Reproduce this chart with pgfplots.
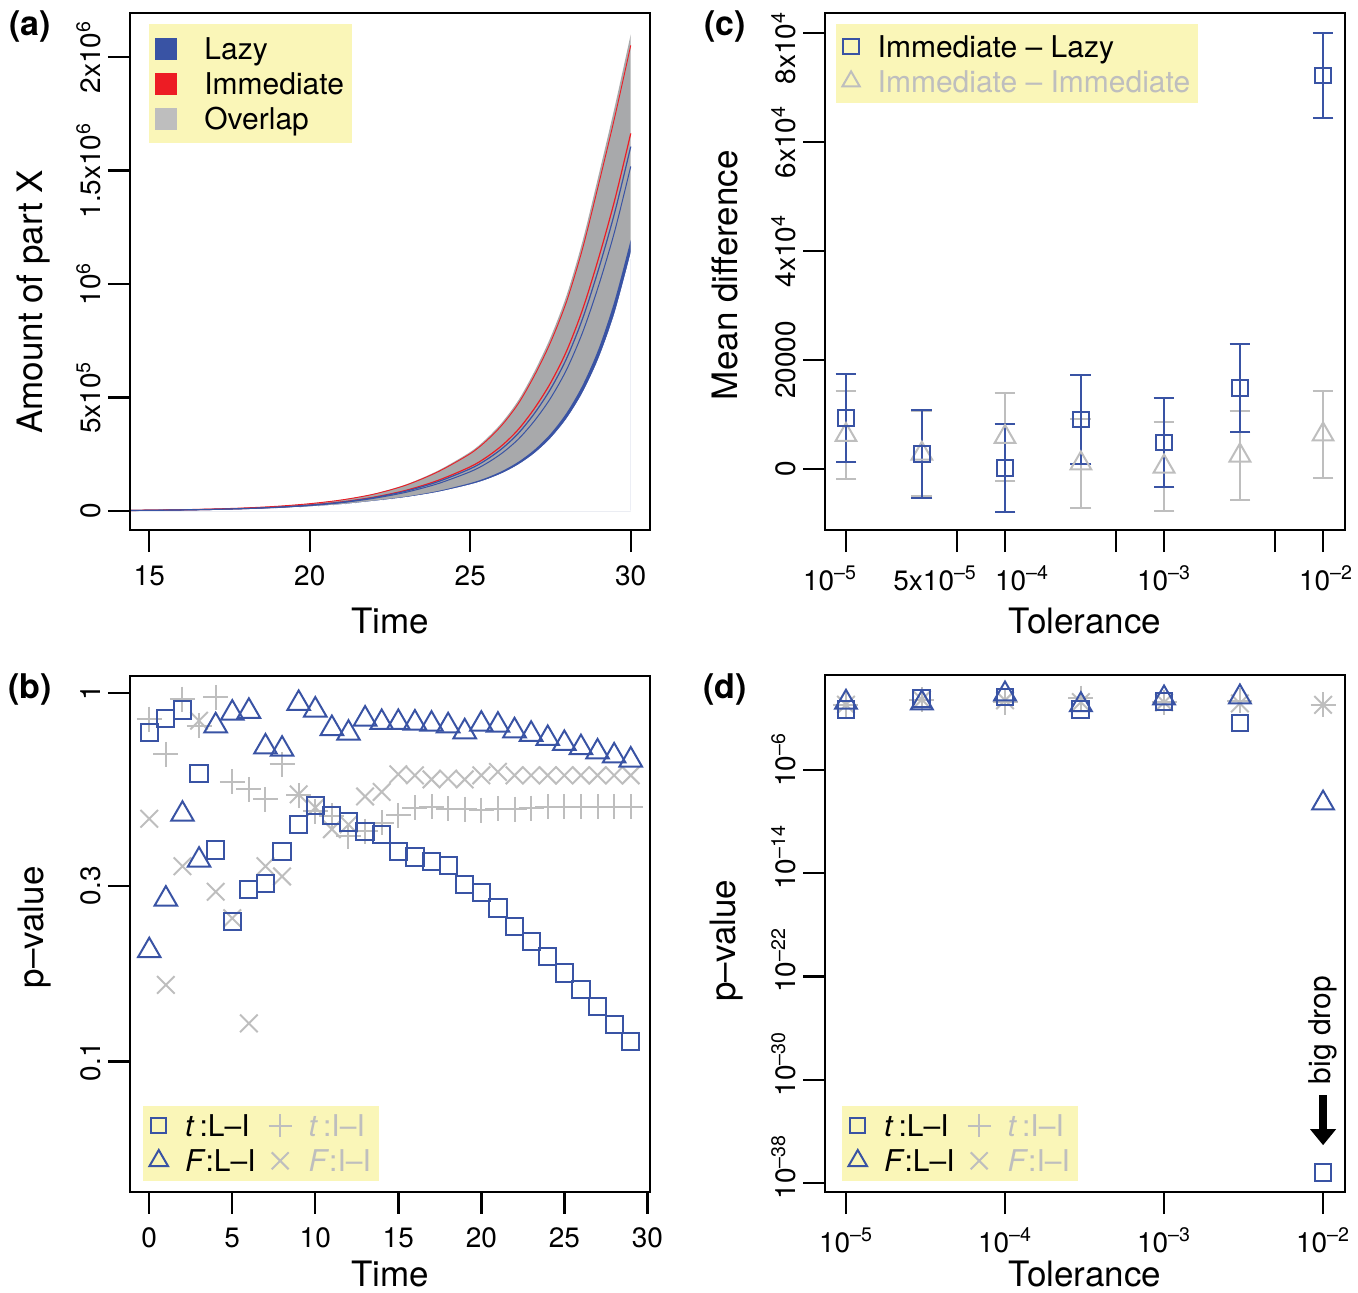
\documentclass[border=0pt]{standalone}
\usepackage{fontspec}
\setmainfont{TeX Gyre Heros}
\usepackage{pgfplots}
\usepackage{pgfplotstable}
\pgfplotsset{compat=1.18}
\usetikzlibrary{arrows.meta}

\definecolor{lazyblue}{HTML}{3953A4}
\definecolor{immred}{HTML}{ED1C24}
\definecolor{overlapgray}{HTML}{A8A9AB}
\definecolor{grayc}{HTML}{BEBEBE}
\definecolor{legendyellow}{HTML}{FAF6B8}

% (a) growth bands
\pgfplotstableread{
t    top     blow    glow    redm    bluem   bluem2  redt
14.4 3000    1750    1873    2438    2363    2250    2938
15   3900    2250    2408    3158    3059    2910    3818
16   6000    3400    3638    4830    4674    4440    5870
17   9200    5200    5564    7400    7160    6800    9000
18   14000   8000    8560    11300   10940   10400   13700
19   21500   12100   12947   17270   16706   15860   21030
20   33000   18400   19688   26430   25554   24240   32270
21   50000   28000   29960   40100   38780   36800   48900
22   76000   42700   45689   61015   59017   56020   74335
23   117000  59400   63558   91080   87624   82440   114120
24   178000  82600   88382   135070  129346  120760  173230
25   260000  115000  123050  194750  186050  173000  252750
25.5 318000  136600  146162  236370  225486  209160  308930
26   392000  165100  176657  289895  276281  255860  380655
26.5 488000  202700  216889  359615  342497  316820  473735
27   615000  252300  269961  451785  430023  397380  596865
27.5 765000  317800  340046  563760  536928  496680  742640
28   950000  404200  432494  704390  671642  622520  922710
28.5 1190000 518300  554581  887735  847433  786980  1156415
29   1480000 668900  715723  1115005 1066339 993340  1439445
29.5 1780000 867700  928439  1369465 1314727 1232620 1734385
30   2100000 1130000 1195000 1663500 1605300 1518000 2051500
}\growth

% (b) p-values over time
\pgfplotstableread{
x  tLI    FLI    tII    FII
0  0.782  0.200  0.850  0.456
1  0.853  0.276  0.682  0.1615
2  0.899  0.469  0.963  0.339
3  0.604  0.352  0.815  0.841
4  0.375  0.815  0.973  0.289
5  0.240  0.882  0.574  0.245
6  0.293  0.892  0.548  0.127
7  0.305  0.714  0.515  0.339
8  0.371  0.704  0.641  0.318
9  0.440  0.937  0.528  0.531
10 0.496  0.899  0.478  0.489
11 0.466  0.801  0.464  0.427
12 0.447  0.778  0.409  0.440
13 0.422  0.850  0.422  0.524
14 0.413  0.832  0.445  0.539
15 0.372  0.832  0.466  0.602
16 0.359  0.829  0.489  0.598
17 0.350  0.823  0.492  0.583
18 0.341  0.815  0.486  0.586
19 0.303  0.785  0.484  0.583
20 0.287  0.823  0.481  0.598
21 0.261  0.818  0.486  0.611
22 0.233  0.790  0.484  0.598
23 0.212  0.773  0.487  0.598
24 0.193  0.753  0.492  0.598
25 0.174  0.730  0.492  0.598
26 0.157  0.711  0.492  0.598
27 0.141  0.692  0.492  0.598
28 0.126  0.675  0.492  0.598
29 0.1137 0.658  0.492  0.598
}\pval

% (c) mean differences with error
\pgfplotstableread{
tol   LI     LIe   II    IIe
1e-5  9355   8075  6235  8065
3e-5  2755   8075  2800  7800
1e-4  185    8075  5875  8075
3e-4  9085   8165  1010  8160
1e-3  4865   8165  450   8150
3e-3  14865  8075  2470  8170
1e-2  72200  7800  6325  7975
}\meandiff

% (d) p-values over tolerance
\pgfplotstableread{
tol   sq      tri     plus   cross
1e-5  0.0468  0.174   0.115  0.115
3e-5  0.331   0.155   0.288  0.288
1e-4  0.447   0.759   0.182  0.251
3e-4  0.0468  0.112   0.372  0.182
1e-3  0.209   0.372   0.174  0.174
3e-3  0.00437 0.447   0.229  0.145
1e-2  6.3e-38 2.69e-9 0.112  0.112
}\ptol

\pgfplotsset{
  panel/.style={
    scale only axis, width=260pt,
    axis on top,
    axis line style={line width=1.2pt},
    every tick/.style={line width=1.2pt, black},
    tick align=outside, major tick length=11pt,
    tick pos=left,
    xminorticks=false, yminorticks=false,
    /pgf/number format/assume math mode=true,
    scaled ticks=false,
    ticklabel style={font=\fontsize{14}{16}\selectfont},
    yticklabel style={rotate=90, anchor=south},
    xticklabel style={yshift=-3.5pt},
    every axis x label/.style={at={(axis description cs:0.5,-0.176)}, anchor=center, inner sep=0pt, font=\fontsize{17.5}{20}\selectfont},
    every axis y label/.style={at={(axis description cs:-0.1865,0.5)}, anchor=center, inner sep=0pt, rotate=90, font=\fontsize{17.5}{20}\selectfont},
    legend cell align=left,
    legend style={fill=legendyellow, draw=none, font=\fontsize{15}{17}\selectfont,
      nodes={text height=10.8pt, text depth=0pt, inner sep=1pt}, row sep=4.7pt,
      inner xsep=3pt, inner ysep=5.85pt},
  },
  pmark/.style={only marks, line width=1pt},
}

\begin{document}
\begin{tikzpicture}
\path[use as bounding box] (0,0) rectangle (679pt,646pt);

% ---------- (a)
\begin{axis}[panel, at={(65pt,381pt)}, anchor=south west, height=258.5pt,
  xmin=14.4, xmax=30.6, ymin=-83700, ymax=2194000,
  xtick={15,20,25,30},
  ytick={0,500000,1000000,1500000,2000000},
  yticklabels={0, 5x10\textsuperscript{5}, 10\textsuperscript{6}, 1.5x10\textsuperscript{6}, 2x10\textsuperscript{6}},
  xlabel={Time}, ylabel={Amount of part X},
  every axis y label/.append style={at={(axis description cs:-0.1865,0.441)}},
  legend style={at={(axis description cs:0,1)}, anchor=north west, xshift=9.5pt, yshift=-5.5pt,
    /tikz/every odd column/.append style={column sep=13pt}},
]
\addplot[smooth, fill=overlapgray, draw=none, forget plot] table[x=t, y=top] {\growth} \closedcycle;
\addplot[smooth, fill=lazyblue, draw=none, forget plot] table[x=t, y=glow] {\growth} \closedcycle;
\addplot[smooth, fill=white, draw=white, line width=0.4pt, forget plot] table[x=t, y=blow] {\growth} \closedcycle;
\addplot[smooth, immred, line width=0.45pt, forget plot] table[x=t, y=redt] {\growth};
\addplot[smooth, immred, line width=0.6pt, forget plot] table[x=t, y=redm] {\growth};
\addplot[smooth, lazyblue, line width=0.6pt, forget plot] table[x=t, y=bluem] {\growth};
\addplot[smooth, lazyblue, line width=0.5pt, forget plot] table[x=t, y=bluem2] {\growth};
\addlegendimage{only marks, mark=square*, mark size=5.25pt, lazyblue}
\addlegendentry{Lazy}
\addlegendimage{only marks, mark=square*, mark size=5.25pt, immred}
\addlegendentry{Immediate}
\addlegendimage{only marks, mark=square*, mark size=5.25pt, grayc}
\addlegendentry{Overlap}
\end{axis}

% ---------- (b)
\begin{axis}[panel, at={(65pt,50pt)}, anchor=south west, height=258pt,
  xmin=-1.16, xmax=30.16, ymode=log, ymin=0.0443, ymax=1.112,
  xtick={0,5,10,15,20,25,30},
  ytick={0.1,0.3,1}, yticklabels={0.1,0.3,1},
  xlabel={Time}, ylabel={p–value},
  every axis x label/.append style={at={(axis description cs:0.5,-0.159)}},
  every axis y label/.append style={at={(axis description cs:-0.183,0.513)}},
  legend columns=2,
  legend style={at={(axis description cs:0,0)}, anchor=south west, xshift=6.5pt, yshift=5.5pt,
    inner ysep=3.5pt, font=\fontsize{15}{17}\selectfont,
    /tikz/every odd column/.append style={column sep=7.5pt},
    /tikz/every even column/.append style={column sep=5.5pt}},
]
\addplot[pmark, grayc, mark=+, mark size=6.25pt, forget plot] table[x=x, y=tII] {\pval};
\addplot[pmark, grayc, mark=x, mark size=6.2pt, forget plot] table[x=x, y=FII] {\pval};
\addplot[pmark, lazyblue, mark=square, mark size=4.3pt, forget plot] table[x=x, y=tLI] {\pval};
\addplot[pmark, lazyblue, mark=triangle, mark size=6.5pt, forget plot] table[x=x, y=FLI] {\pval};
\addlegendimage{pmark, lazyblue, mark=square, mark size=3.8pt}
\addlegendentry{\textit{t}\,:L–I}
\addlegendimage{pmark, grayc, mark=+, mark size=5.75pt}
\addlegendentry{\textcolor{grayc}{\textit{t}\,:I–I}}
\addlegendimage{pmark, lazyblue, mark=triangle, mark size=5.4pt}
\addlegendentry{\textit{F}:L–I}
\addlegendimage{pmark, grayc, mark=x, mark size=6pt}
\addlegendentry{\textcolor{grayc}{\textit{F}:I–I}}
\end{axis}

% ---------- (c)
\begin{axis}[panel, at={(412.5pt,381pt)}, anchor=south west, height=258.5pt,
  xmode=log, xmin=7.38e-6, xmax=0.01374, ymin=-11200, ymax=83670,
  xtick={1e-5,5e-5,1e-4,5e-4,1e-3,5e-3,1e-2},
  xticklabels={\hspace*{-16pt}10\textsuperscript{–5}, \hspace*{-22pt}5x10\textsuperscript{–5}, \hspace*{17pt}10\textsuperscript{–4}, , 10\textsuperscript{–3}, , \hspace*{3pt}10\textsuperscript{–2}},
  ytick={0,20000,40000,60000,80000},
  yticklabels={0, 20000, 4x10\textsuperscript{4}, 6x10\textsuperscript{4}, \hspace*{-15pt}8x10\textsuperscript{4}},
  xlabel={Tolerance}, ylabel={Mean difference},
  every axis y label/.append style={at={(axis description cs:-0.1923,0.493)}},
  legend style={at={(axis description cs:0,1)}, anchor=north west, xshift=5.5pt, yshift=-5.5pt,
    inner ysep=4.6pt, /tikz/every odd column/.append style={column sep=8pt}},
]
\addplot[pmark, grayc, mark=triangle, mark size=6pt, forget plot,
  error bars/.cd, y dir=both, y explicit,
  error bar style={grayc, line width=1pt},
  error mark options={grayc, line width=1pt, mark size=5.2pt, rotate=90}]
  table[x=tol, y=II, y error=IIe] {\meandiff};
\addplot[pmark, lazyblue, mark=square, mark size=3.9pt, forget plot,
  error bars/.cd, y dir=both, y explicit,
  error bar style={lazyblue, line width=1pt},
  error mark options={lazyblue, line width=1pt, mark size=5.2pt, rotate=90}]
  table[x=tol, y=LI, y error=LIe] {\meandiff};
\addlegendimage{pmark, lazyblue, mark=square, mark size=3.8pt}
\addlegendentry{Immediate – Lazy}
\addlegendimage{pmark, grayc, mark=triangle, mark size=5pt}
\addlegendentry{\textcolor{grayc}{Immediate – Immediate}}
\end{axis}

% ---------- (d)
\begin{axis}[panel, at={(412.5pt,50pt)}, anchor=south west, height=258.5pt, clip=false,
  xmode=log, ymode=log, xmin=7.38e-6, xmax=0.01374, ymin=2e-39, ymax=22.9,
  xtick={1e-5,1e-4,1e-3,1e-2},
  xticklabels={10\textsuperscript{–5}, 10\textsuperscript{–4}, 10\textsuperscript{–3}, 10\textsuperscript{–2}},
  ytick={1e-38,1e-30,1e-22,1e-14,1e-6},
  yticklabels={\hspace*{16pt}10\textsuperscript{–38}, \hspace*{16pt}10\textsuperscript{–30}, \hspace*{16pt}10\textsuperscript{–22}, \hspace*{16pt}10\textsuperscript{–14}, \hspace*{10pt}10\textsuperscript{–6}},
  xlabel={Tolerance}, ylabel={p–value},
  every axis x label/.append style={at={(axis description cs:0.5,-0.1586)}},
  every axis y label/.append style={at={(axis description cs:-0.1885,0.486)}},
  legend columns=2,
  legend style={at={(axis description cs:0,0)}, anchor=south west, xshift=8.5pt, yshift=5.5pt,
    inner ysep=3.5pt, font=\fontsize{15}{17}\selectfont,
    /tikz/every odd column/.append style={column sep=7.5pt},
    /tikz/every even column/.append style={column sep=5.5pt}},
]
\addplot[pmark, grayc, mark=+, mark size=6.25pt, forget plot] table[x=tol, y=plus] {\ptol};
\addplot[pmark, grayc, mark=x, mark size=6.2pt, forget plot] table[x=tol, y=cross] {\ptol};
\addplot[pmark, lazyblue, mark=square, mark size=4.2pt, forget plot] table[x=tol, y=sq] {\ptol};
\addplot[pmark, lazyblue, mark=triangle, mark size=6.3pt, forget plot] table[x=tol, y=tri] {\ptol};
\addlegendimage{pmark, lazyblue, mark=square, mark size=3.8pt}
\addlegendentry{\textit{t}\,:L–I}
\addlegendimage{pmark, grayc, mark=+, mark size=5.75pt}
\addlegendentry{\textcolor{grayc}{\textit{t}\,:I–I}}
\addlegendimage{pmark, lazyblue, mark=triangle, mark size=5.4pt}
\addlegendentry{\textit{F}:L–I}
\addlegendimage{pmark, grayc, mark=x, mark size=6pt}
\addlegendentry{\textcolor{grayc}{\textit{F}:I–I}}
\draw[line width=4pt, -{Triangle[width=12.5pt, length=8pt]}] (axis cs:0.01,6.3e-32) -- (axis cs:0.01,8.5e-36);
\node[rotate=90, anchor=center, font=\fontsize{15}{17}\selectfont] at (axis cs:0.01,6.9e-27) {big drop};
\end{axis}

\node[font=\fontsize{17}{20}\selectfont\bfseries] at (15pt,632.5pt) {(a)};
\node[font=\fontsize{17}{20}\selectfont\bfseries] at (15pt,301pt) {(b)};
\node[font=\fontsize{17}{20}\selectfont\bfseries] at (362.5pt,632.5pt) {(c)};
\node[font=\fontsize{17}{20}\selectfont\bfseries] at (362.5pt,301pt) {(d)};
\end{tikzpicture}
\end{document}
